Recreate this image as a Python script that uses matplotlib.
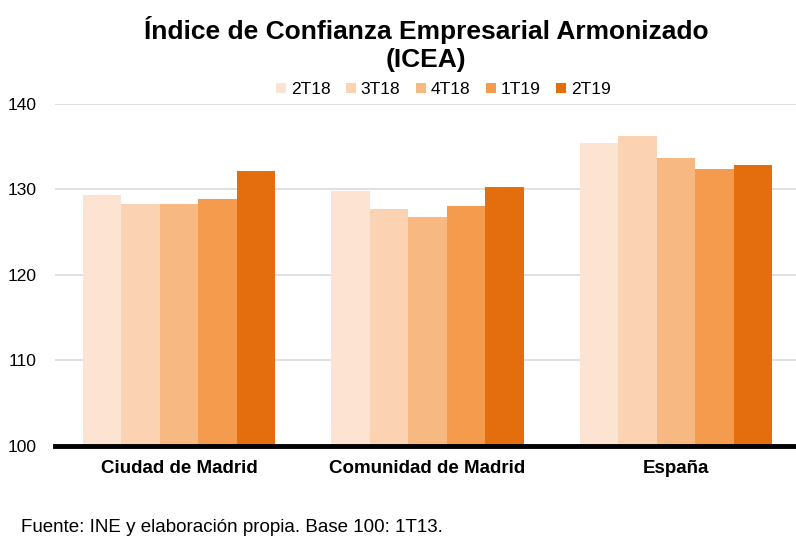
import numpy as np
import matplotlib.pyplot as plt

plt.rcParams['font.family'] = ['Liberation Sans', 'DejaVu Sans']

categories = ['Ciudad de Madrid', 'Comunidad de Madrid', 'España']
series = ['2T18', '3T18', '4T18', '1T19', '2T19']
values = {
    '2T18': [129.4, 129.8, 135.4],
    '3T18': [128.3, 127.7, 136.2],
    '4T18': [128.3, 126.8, 133.7],
    '1T19': [128.9, 128.1, 132.4],
    '2T19': [132.2, 130.3, 132.8],
}
colors = ['#FDE3D1', '#FBD2B2', '#F8B882', '#F49B4E', '#E46E0E']
yticks = [100, 110, 120, 130, 140]

fig = plt.figure(figsize=(7.96, 5.38), dpi=100)
ax = fig.add_axes([0.069, 0.171, 0.936, 0.636])

x = np.arange(len(categories))
w = 0.775 / len(series)
for i, s in enumerate(series):
    ax.bar(x + (i - 2) * w, values[s], width=w, color=colors[i], label=s,
           zorder=3, linewidth=0)

ax.set_ylim(100, 140)
ax.set_xlim(-0.5, 2.5)
ax.set_yticks(yticks)
ax.grid(axis='y', color='#DADADA', linewidth=1.2, zorder=0)
ax.tick_params(axis='y', length=0, labelsize=12.5, pad=13)
ax.set_xticks(x)
ax.set_xticklabels(categories, fontsize=13.5, fontweight='bold')
ax.tick_params(axis='x', length=0, pad=10)
for sp in ['top', 'right', 'left']:
    ax.spines[sp].set_visible(False)
ax.spines['bottom'].set_linewidth(3.5)
ax.spines['bottom'].set_color('black')
ax.spines['bottom'].set_zorder(5)

fig.text(0.535, 0.97, 'Índice de Confianza Empresarial Armonizado\n(ICEA)',
         ha='center', va='top', fontsize=19, fontweight='bold',
         linespacing=1.22)
fig.legend(loc='center', bbox_to_anchor=(0.557, 0.833), ncol=5, frameon=False,
           fontsize=12.5, handlelength=0.55, handleheight=0.55,
           handletextpad=0.3, columnspacing=0.9)
fig.text(0.027, 0.003, 'Fuente: INE y elaboración propia. Base 100: 1T13.',
         fontsize=13.5, ha='left', va='bottom')

fig.savefig('out.png', dpi=100)
